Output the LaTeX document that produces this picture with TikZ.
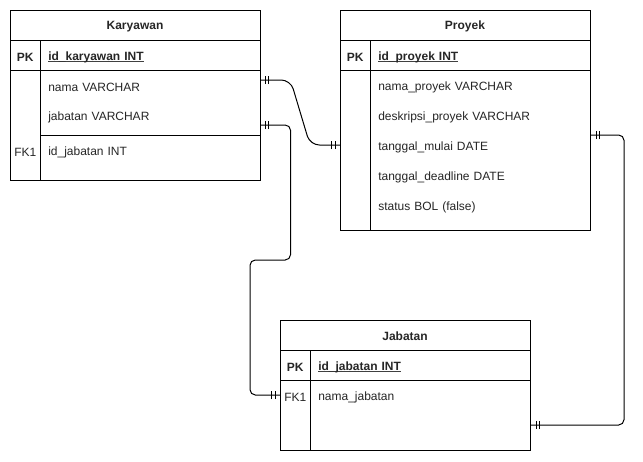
\documentclass[tikz,border=0pt]{standalone}
\usepackage{fontspec}
\setmainfont{Liberation Sans}
\usetikzlibrary{calc,decorations.markings}

% thin underline set close to the baseline
\newcommand{\keyline}[1]{\setbox0\hbox{#1}\rlap{\color{black!75}\rule[-1.1pt]{\wd0}{0.55pt}}\box0}

\begin{document}
\begin{tikzpicture}[x=0.75pt,y=-0.75pt,
  every node/.style={font=\fontsize{9pt}{11pt}\selectfont,text=black!85},
  frame/.style={draw,line width=0.75pt,fill=white,anchor=north west,inner sep=0pt},
  rule/.style={line width=0.75pt},
  title/.style={font=\fontsize{9pt}{11pt}\selectfont\bfseries,inner sep=0pt,yshift=-1.2pt},
  keycell/.style={minimum width=22.5pt,minimum height=22.5pt,inner sep=0pt,anchor=west,yshift=-1.5pt},
  pkcell/.style={keycell,font=\fontsize{9pt}{11pt}\selectfont\bfseries},
  attr/.style={anchor=west,inner xsep=6pt,inner ysep=0pt,minimum height=22.5pt,
    text width=153pt,align=left,yshift=-1.5pt},
  pkattr/.style={attr,font=\fontsize{9pt}{11pt}\selectfont\bfseries},
  relation/.style={draw,line width=0.75pt,
    postaction={decorate,decoration={markings,
      mark=at position 3.75pt with {\draw[line width=0.75pt] (0,-3pt) -- (0,3pt);},
      mark=at position 6.2pt with {\draw[line width=0.75pt] (0,-3pt) -- (0,3pt);},
      mark=at position -6.2pt with {\draw[line width=0.75pt] (0,-3pt) -- (0,3pt);},
      mark=at position -3.75pt with {\draw[line width=0.75pt] (0,-3pt) -- (0,3pt);}}}}
]
\useasboundingbox[fill=white] (0,0) rectangle (643,461);

% ---------- Karyawan ----------
\node[frame,minimum width=187.5pt,minimum height=127.5pt] (kar) at (10,10) {};
\draw[rule] (10,40) -- (260,40) (10,70) -- (260,70) (40,40) -- (40,180) (40,135) -- (260,135);
\node[title] (kar-t) at (135,25) {Karyawan};
\node[pkcell] (kar-pk) at (10,55) {PK};
\node[pkattr] (kar-id) at (40,55) {\keyline{id\_karyawan INT}};
\node[attr] (kar-nama) at (40,85) {nama VARCHAR};
\node[attr] (kar-jab) at (40,115) {jabatan VARCHAR};
\node[keycell] (kar-fk) at (10,150) {FK1};
\node[attr] (kar-idj) at (40,150) {id\_jabatan INT};

% ---------- Proyek ----------
\node[frame,minimum width=187.5pt,minimum height=165pt] (pro) at (340,10) {};
\draw[rule] (340,40) -- (590,40) (340,70) -- (590,70) (370,40) -- (370,230);
\node[title] (pro-t) at (465,25) {Proyek};
\node[pkcell] (pro-pk) at (340,55) {PK};
\node[pkattr] (pro-id) at (370,55) {\keyline{id\_proyek INT}};
\node[attr] (pro-nama) at (370,85) {nama\_proyek VARCHAR};
\node[attr] (pro-desk) at (370,115) {deskripsi\_proyek VARCHAR};
\node[attr] (pro-mulai) at (370,145) {tanggal\_mulai DATE};
\node[attr] (pro-dead) at (370,175) {tanggal\_deadline DATE};
\node[attr] (pro-stat) at (370,205) {status BOL (false)};

% ---------- Jabatan ----------
\node[frame,minimum width=187.5pt,minimum height=97.5pt] (jab) at (280,320) {};
\draw[rule] (280,350) -- (530,350) (280,380) -- (530,380) (310,350) -- (310,450);
\node[title] (jab-t) at (405,335) {Jabatan};
\node[pkcell] (jab-pk) at (280,365) {PK};
\node[pkattr] (jab-id) at (310,365) {\keyline{id\_jabatan INT}};
\node[keycell] (jab-fk) at (280,395) {FK1};
\node[attr] (jab-nama) at (310,395) {nama\_jabatan};

% ---------- relations ----------
\coordinate (kar-out1) at (kar-nama.east |- 0,80);
\coordinate (kar-out2) at (kar-jab.east |- 0,125);
\coordinate (pro-in) at (pro.west |- 0,145);
\coordinate (pro-out) at (pro.east |- 0,135);
\coordinate (jab-in) at (jab.west |- 0,395);
\coordinate (jab-out) at (jab.east |- 0,425);

\draw[relation,rounded corners=7pt]
  (kar-out1) -- ++(30,0) -- ($(pro-in)+(-30,0)$) -- (pro-in);
\draw[relation,rounded corners=4pt]
  (kar-out2) -- ++(30,0) |- (250,260) |- (jab-in);
\draw[relation,rounded corners=4pt]
  (pro-out) -- ++(33,0) |- (jab-out);
\end{tikzpicture}
\end{document}
